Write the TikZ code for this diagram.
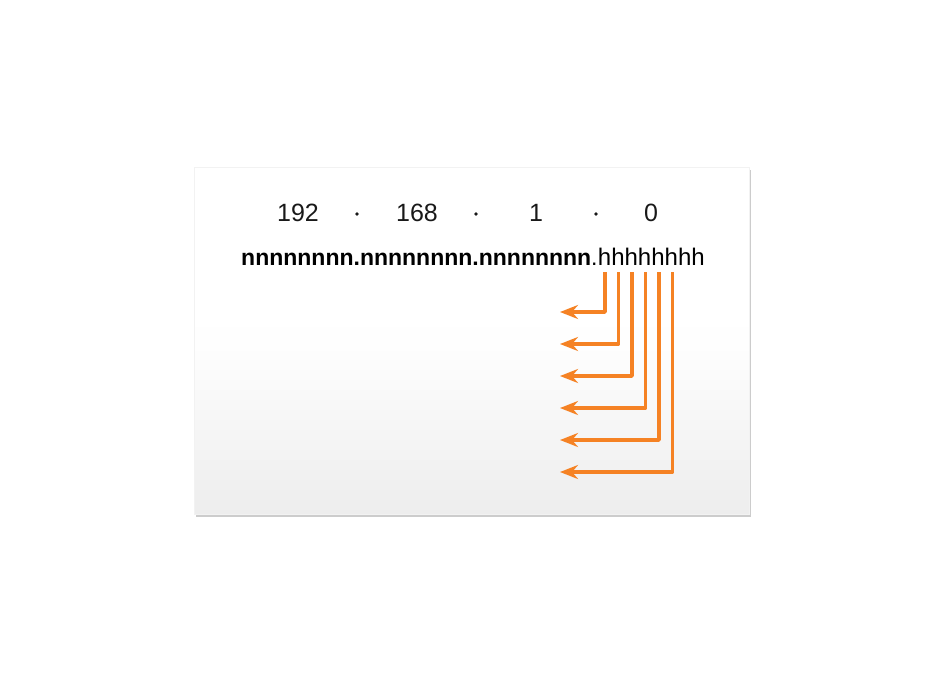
\documentclass[tikz,border=0pt]{standalone}
\usepackage{fontspec}
\setmainfont{Liberation Sans}
\usetikzlibrary{shadows,arrows.meta}
\definecolor{arrorange}{RGB}{245,130,36}
\definecolor{panelbot}{RGB}{237,237,237}
\tikzset{
  digit/.style={anchor=base,inner sep=0pt,font=\fontsize{25}{30}\selectfont,text=black!90},
  sepdot/.style={circle,fill=black!90,inner sep=0pt,minimum size=3.6pt},
  hostarrow/.style={draw=arrorange,line width=3.6pt,line join=round,
    -{Stealth[length=18pt,width=14pt,inset=6pt]}},
}
\begin{document}
\begin{tikzpicture}[x=1pt,y=-1pt]
\useasboundingbox (0,0) rectangle (944,681);
\path[draw=black!5,line width=0.6pt,top color=white,bottom color=panelbot,middle color=white!97!panelbot,
  drop shadow={shadow xshift=1.5pt,shadow yshift=-2.5pt,opacity=0.4}]
  (194,167) rectangle (749,514);
\node[digit] (o1) at (298,221) {192};
\node[sepdot] (d1) at (357,214) {};
\node[digit] (o2) at (417,221) {168};
\node[sepdot] (d2) at (476,214) {};
\node[digit] (o3) at (536,221) {1};
\node[sepdot] (d3) at (596,214) {};
\node[digit] (o4) at (651,221) {0};
\node[anchor=base west,inner sep=0pt,font=\fontsize{23}{28}\selectfont] (net) at (241,265)
  {\textbf{nnnnnnnn.nnnnnnnn.nnnnnnnn}.};
\node[anchor=base west,inner sep=0pt,font=\fontsize{24}{28}\selectfont] (host) at (net.base east) {hhhhhhhh};
\foreach \i/\x/\y in {1/605/312,2/618.5/344,3/632/376,4/645.5/408,5/659/440,6/672.5/472}{
  \coordinate (t\i) at (\x,272);
  \coordinate (e\i) at (560,\y);
  \draw[hostarrow] (t\i) |- (e\i);
}
\end{tikzpicture}
\end{document}
